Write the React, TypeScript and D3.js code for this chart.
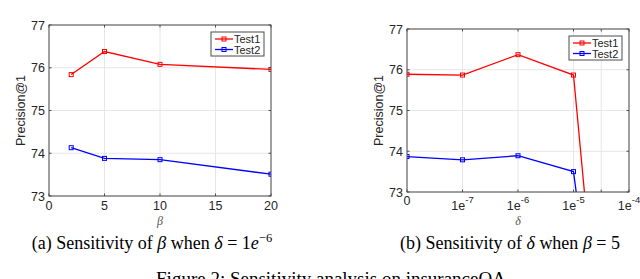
import React, { useEffect, useRef } from 'react';
import * as d3 from 'd3';

// panel (a): beta sweep
const betaValues = [2, 5, 10, 20];
const betaTest1 = [75.84, 76.38, 76.08, 75.96];
const betaTest2 = [74.13, 73.88, 73.85, 73.51];
const betaTicks = [0, 5, 10, 15, 20];

// panel (b): delta sweep (evenly spaced categories)
const deltaIndex = [0, 1, 2, 3, 4];
const deltaTickLabels = [
  { base: '0', exp: '' },
  { base: '1e', exp: '-7' },
  { base: '1e', exp: '-6' },
  { base: '1e', exp: '-5' },
  { base: '1e', exp: '-4' },
];
const deltaTest1 = [75.89, 75.87, 76.37, 75.87, 61.3];
const deltaTest2 = [73.87, 73.79, 73.89, 73.5, 63.2];
const deltaExtraTicks = [3.5];

const yTicks = [73, 74, 75, 76, 77];
const seriesNames = ['Test1', 'Test2'];
const seriesColors = ['#ff0000', '#0000ff'];

const AXIS = '#4d4d4d';
const TEXT = '#262626';
const GRID = '#e6e6e6';
const SANS = 'Liberation Sans, Arial, sans-serif';
const SERIF = 'Liberation Serif, Times New Roman, serif';

function drawPanel(svg, opts) {
  const { id, left, right, top, bottom, xDomain, xTicks, extraTicks, xs, series, legend, xLabel, xLabelDy, tickLabel } = opts;
  const x = d3.scaleLinear().domain(xDomain).range([left, right]);
  const y = d3.scaleLinear().domain([73, 77]).range([bottom, top]);
  const g = svg.append('g');

  g.append('clipPath').attr('id', id)
    .append('rect').attr('x', left).attr('y', top).attr('width', right - left).attr('height', bottom - top);

  const allX = xTicks.concat(extraTicks);
  // grid
  g.selectAll('.gx').data(allX).enter().append('line')
    .attr('x1', d => x(d)).attr('x2', d => x(d)).attr('y1', top).attr('y2', bottom)
    .attr('stroke', GRID).attr('stroke-width', 1);
  g.selectAll('.gy').data(yTicks).enter().append('line')
    .attr('x1', left).attr('x2', right).attr('y1', d => y(d)).attr('y2', d => y(d))
    .attr('stroke', GRID).attr('stroke-width', 1);

  // lines + markers
  series.forEach((vals, i) => {
    const pts = xs.map((xv, j) => [x(xv), y(vals[j])]);
    g.append('path')
      .attr('d', d3.line()(pts))
      .attr('fill', 'none').attr('stroke', seriesColors[i]).attr('stroke-width', 1.3)
      .attr('clip-path', `url(#${id})`);
    g.append('g').attr('clip-path', `url(#${id})`)
      .selectAll('rect').data(pts).enter().append('rect')
      .attr('x', d => d[0] - 2).attr('y', d => d[1] - 2).attr('width', 4).attr('height', 4)
      .attr('fill', 'none').attr('stroke', seriesColors[i]).attr('stroke-width', 1);
  });

  // box
  g.append('rect').attr('x', left).attr('y', top).attr('width', right - left).attr('height', bottom - top)
    .attr('fill', 'none').attr('stroke', AXIS).attr('stroke-width', 1);

  // inward ticks
  allX.forEach(d => {
    g.append('line').attr('x1', x(d)).attr('x2', x(d)).attr('y1', bottom).attr('y2', bottom - 2.5).attr('stroke', AXIS);
    g.append('line').attr('x1', x(d)).attr('x2', x(d)).attr('y1', top).attr('y2', top + 2.5).attr('stroke', AXIS);
  });
  yTicks.forEach(d => {
    g.append('line').attr('x1', left).attr('x2', left + 2.5).attr('y1', y(d)).attr('y2', y(d)).attr('stroke', AXIS);
    g.append('line').attr('x1', right).attr('x2', right - 2.5).attr('y1', y(d)).attr('y2', y(d)).attr('stroke', AXIS);
  });

  // y tick labels
  g.selectAll('.yl').data(yTicks).enter().append('text')
    .attr('x', left - 4).attr('y', d => y(d) + 4.5)
    .attr('text-anchor', 'end').attr('font-family', SANS).attr('font-size', 12.5).attr('fill', TEXT)
    .text(d => d);

  // x tick labels
  xTicks.forEach((d, i) => tickLabel(g, x(d), bottom, i, d));

  // y label
  g.append('text')
    .attr('transform', `translate(${left - 24},${(top + bottom) / 2}) rotate(-90)`)
    .attr('text-anchor', 'middle').attr('font-family', SANS).attr('font-size', 12.5).attr('fill', TEXT)
    .text('Precision@1');

  // x label
  g.append('text')
    .attr('x', (left + right) / 2).attr('y', bottom + xLabelDy)
    .attr('text-anchor', 'middle').attr('font-family', SERIF).attr('font-style', 'italic')
    .attr('font-size', 12).attr('fill', '#555')
    .text(xLabel);

  // legend
  const lg = g.append('g').attr('transform', `translate(${legend.x},${legend.y})`);
  lg.append('rect').attr('x', 0).attr('y', 0).attr('width', legend.w).attr('height', legend.h)
    .attr('fill', '#fff').attr('stroke', AXIS).attr('stroke-width', 1);
  seriesNames.forEach((name, i) => {
    const cy = 7 + i * 10.5;
    lg.append('line').attr('x1', 4).attr('x2', 22).attr('y1', cy).attr('y2', cy)
      .attr('stroke', seriesColors[i]).attr('stroke-width', 1.3);
    lg.append('rect').attr('x', 11).attr('y', cy - 2).attr('width', 4).attr('height', 4)
      .attr('fill', 'none').attr('stroke', seriesColors[i]);
    lg.append('text').attr('x', 23).attr('y', cy + 4)
      .attr('font-family', SANS).attr('font-size', 11).attr('fill', TEXT).text(name);
  });
}

export default function App() {
  const ref = useRef(null);

  useEffect(() => {
    const svg = d3.select(ref.current);
    svg.selectAll('*').remove();

    drawPanel(svg, {
      id: 'clipA', left: 49, right: 271, top: 25, bottom: 196,
      xDomain: [0, 20], xTicks: betaTicks, extraTicks: [], xs: betaValues,
      series: [betaTest1, betaTest2],
      legend: { x: 211, y: 32, w: 53, h: 24 },
      xLabel: 'β', xLabelDy: 29,
      tickLabel: (g, px, bottom, i, d) => {
        g.append('text').attr('x', px).attr('y', bottom + 14)
          .attr('text-anchor', 'middle').attr('font-family', SANS).attr('font-size', 12.5).attr('fill', TEXT)
          .text(d);
      },
    });

    drawPanel(svg, {
      id: 'clipB', left: 407, right: 629, top: 29, bottom: 192,
      xDomain: [0, 4], xTicks: deltaIndex, extraTicks: deltaExtraTicks, xs: deltaIndex,
      series: [deltaTest1, deltaTest2],
      legend: { x: 569, y: 36, w: 53, h: 24 },
      xLabel: 'δ', xLabelDy: 33,
      tickLabel: (g, px, bottom, i) => {
        const lab = deltaTickLabels[i];
        if (!lab.exp) {
          g.append('text').attr('x', px).attr('y', bottom + 13)
            .attr('text-anchor', 'middle').attr('font-family', SANS).attr('font-size', 12.5).attr('fill', TEXT)
            .text(lab.base);
          return;
        }
        const t = g.append('text').attr('x', px).attr('y', bottom + 18)
          .attr('text-anchor', 'middle').attr('font-family', SANS).attr('font-size', 12.5).attr('fill', TEXT);
        t.append('tspan').text(lab.base);
        t.append('tspan').attr('dy', -7).attr('font-size', 9.5).text(lab.exp);
      },
    });

    // sub-captions
    const capA = svg.append('text').attr('x', 152).attr('y', 249).attr('text-anchor', 'middle')
      .attr('font-family', SERIF).attr('font-size', 18).attr('fill', '#000');
    capA.append('tspan').text('(a) Sensitivity of ');
    capA.append('tspan').attr('font-style', 'italic').text('β');
    capA.append('tspan').text(' when ');
    capA.append('tspan').attr('font-style', 'italic').text('δ');
    capA.append('tspan').text(' = 1');
    capA.append('tspan').attr('font-style', 'italic').text('e');
    capA.append('tspan').attr('dy', -7).attr('font-size', 12.5).text('−6');

    const capB = svg.append('text').attr('x', 510).attr('y', 249).attr('text-anchor', 'middle')
      .attr('font-family', SERIF).attr('font-size', 18).attr('fill', '#000');
    capB.append('tspan').text('(b) Sensitivity of ');
    capB.append('tspan').attr('font-style', 'italic').text('δ');
    capB.append('tspan').text(' when ');
    capB.append('tspan').attr('font-style', 'italic').text('β');
    capB.append('tspan').text(' = 5');

    svg.append('text').attr('x', 331).attr('y', 285).attr('text-anchor', 'middle')
      .attr('font-family', SERIF).attr('font-size', 19).attr('fill', '#000')
      .text('Figure 2: Sensitivity analysis on insuranceQA');
  }, []);

  return (
    <svg ref={ref} width={640} height={279}
      style={{ position: 'absolute', left: 0, top: 0, background: '#fff' }} />
  );
}
